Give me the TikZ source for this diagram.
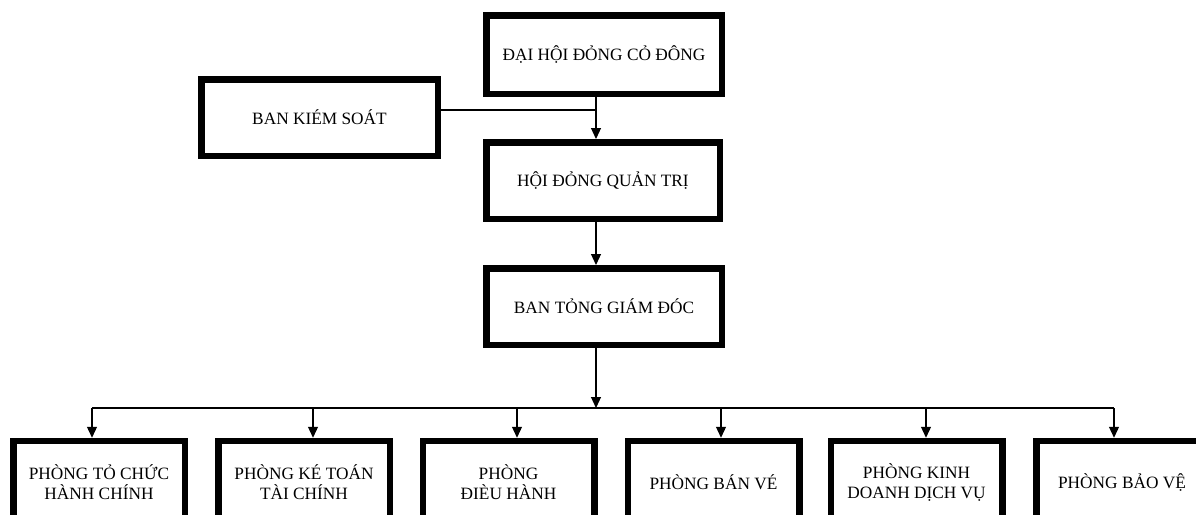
\documentclass[tikz,border=0pt]{standalone}
\usepackage{fontspec}
\setmainfont{Liberation Serif}
\usetikzlibrary{arrows.meta}
\begin{document}
\begin{tikzpicture}[x=1pt,y=-1pt,
  box/.style={draw=black,line width=6.5pt,rectangle,fill=white,inner sep=0pt,align=center,
    font=\fontsize{17.3}{20}\selectfont},
  topbox/.style={box,minimum width=235.5pt,minimum height=76.5pt},
  deptbox/.style={box,minimum width=171.5pt,minimum height=82pt},
  conn/.style={draw=black,line width=1.2pt},
  arr/.style={conn,-{Triangle[length=11pt,width=10pt]}}]
\useasboundingbox (0,0) rectangle (1196,514);
\clip (0,0) rectangle (1196,514);
% top chain
\node[topbox,minimum height=78.5pt] (dh) at (604,54.5) {ĐẠI HỘI ĐỎNG CỎ ĐÔNG};
\node[topbox,minimum width=236.5pt] (bks) at (319.5,117.5) {BAN KIÉM SOÁT};
\node[topbox,minimum width=233.5pt] (hd) at (603,180.5) {HỘI ĐỎNG QUẢN TRỊ};
\node[topbox] (bt) at (604,306.5) {BAN TỎNG GIÁM ĐÓC};
% departments
\node[deptbox] (p1) at (99,482) {PHÒNG TỎ CHỨC\\HÀNH CHÍNH};
\node[deptbox] (p2) at (304,482) {PHÒNG KÉ TOÁN\\TÀI CHÍNH};
\node[deptbox] (p3) at (508.5,482) {PHÒNG\\ĐIÈU HÀNH};
\node[deptbox] (p4) at (713.5,482) {PHÒNG BÁN VÉ};
\node[deptbox] (p5) at (916.5,482) {PHÒNG KINH\\DOANH DỊCH VỤ};
\node[deptbox] (p6) at (1122,482) {PHÒNG BẢO VỆ};
% connector coordinates
\coordinate (sx) at (596,0);
\coordinate (bksj) at (596,110);
\coordinate (bus) at (596,408);
\coordinate (b1) at (92,408);
\coordinate (b2) at (313,408);
\coordinate (b3) at (517,408);
\coordinate (b4) at (721,408);
\coordinate (b5) at (926,408);
\coordinate (b6) at (1114,408);
% connectors
\draw[arr] (dh.south -| sx) -- (hd.north -| sx);
\draw[conn] (bks.east |- bksj) -- (bksj);
\draw[arr] (hd.south -| sx) -- (bt.north -| sx);
\draw[arr] (bt.south -| sx) -- (bus);
\draw[conn] (b1) -- (b6);
\draw[arr] (b1) -- (b1 |- p1.north);
\draw[arr] (b2) -- (b2 |- p2.north);
\draw[arr] (b3) -- (b3 |- p3.north);
\draw[arr] (b4) -- (b4 |- p4.north);
\draw[arr] (b5) -- (b5 |- p5.north);
\draw[arr] (b6) -- (b6 |- p6.north);
\end{tikzpicture}
\end{document}
